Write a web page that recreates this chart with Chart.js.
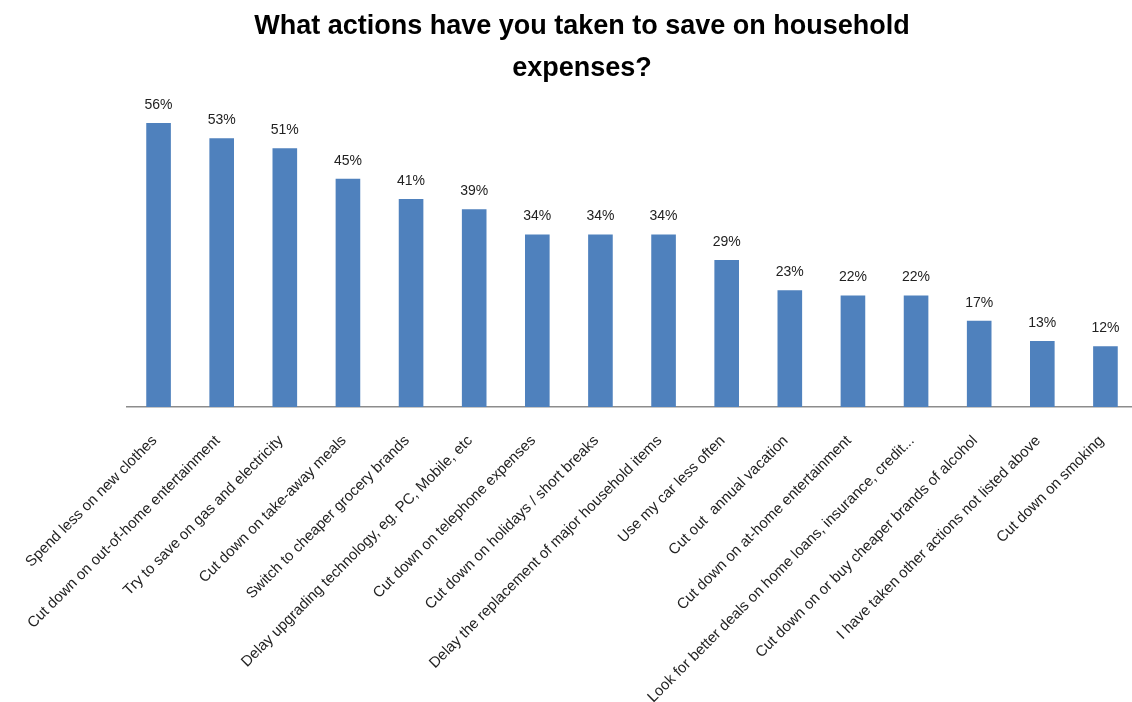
<!DOCTYPE html>
<html>
<head>
<meta charset="utf-8">
<script src="https://cdn.jsdelivr.net/npm/chart.js@4"></script>
<style>
  html, body { margin: 0; padding: 0; background: #fff; overflow: hidden; }
  #wrap { width: 1132px; height: 702px; overflow: hidden; }
</style>
</head>
<body>
<div id="wrap"><canvas id="grafico" width="1138" height="702"></canvas></div>
<script>
const acciones = [
  "Spend less on new clothes",
  "Cut down on out-of-home entertainment",
  "Try to save on gas and electricity",
  "Cut down on take-away meals",
  "Switch to cheaper grocery brands",
  "Delay upgrading technology, eg. PC, Mobile, etc",
  "Cut down on telephone expenses",
  "Cut down on holidays / short breaks",
  "Delay the replacement of major household items",
  "Use my car less often",
  "Cut out  annual vacation",
  "Cut down on at-home entertainment",
  "Look for better deals on home loans, insurance, credit...",
  "Cut down on or buy cheaper brands of alcohol",
  "I have taken other actions not listed above",
  "Cut down on smoking"
];
const porcentajes = [56, 53, 51, 45, 41, 39, 34, 34, 34, 29, 23, 22, 22, 17, 13, 12];

const fuente = "'Liberation Sans', Arial, sans-serif";

// etiquetas de valor encima de cada barra
const etiquetas = {
  id: "etiquetas",
  afterDatasetsDraw(chart) {
    const ctx = chart.ctx;
    const meta = chart.getDatasetMeta(0);
    ctx.save();
    ctx.font = "14px " + fuente;
    ctx.fillStyle = "#222";
    ctx.textAlign = "center";
    ctx.textBaseline = "middle";
    meta.data.forEach((bar, i) => {
      ctx.fillText(porcentajes[i] + "%", bar.x, bar.y - 18);
    });
    ctx.restore();
  }
};

const ctx = document.getElementById("grafico").getContext("2d");
new Chart(ctx, {
  type: "bar",
  data: {
    labels: acciones,
    datasets: [{
      data: porcentajes,
      backgroundColor: "#4F81BD",
      categoryPercentage: 1,
      barPercentage: 0.39
    }]
  },
  plugins: [etiquetas],
  options: {
    responsive: false,
    animation: false,
    layout: { padding: { left: 27, right: 1, top: 0, bottom: 0 } },
    plugins: {
      legend: { display: false },
      tooltip: { enabled: false },
      title: {
        display: true,
        text: ["What actions have you taken to save on household", "expenses?"],
        color: "#000",
        font: { family: fuente, size: 27, weight: "bold", lineHeight: 1.55 },
        padding: { top: 6, bottom: 13 }
      }
    },
    scales: {
      x: {
        grid: { display: false },
        border: { display: true, color: "#8c8c8c", width: 1.5 },
        ticks: {
          autoSkip: false,
          maxRotation: 45,
          minRotation: 45,
          padding: 17,
          labelOffset: -4,
          color: "#222",
          font: { family: fuente, size: 15 }
        },
        afterFit(scale) {
          scale.height = 295;
          scale.paddingLeft = 0;
          scale.paddingRight = 0;
        }
      },
      y: {
        min: 0,
        max: 60,
        grid: { display: false },
        border: { display: false },
        ticks: { display: false },
        afterFit(scale) {
          scale.width = 100;
        }
      }
    }
  }
});
</script>
</body>
</html>
